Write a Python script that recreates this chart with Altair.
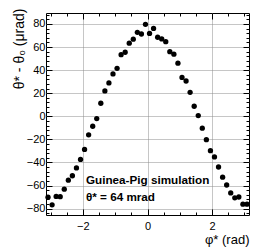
import altair as alt
import pandas as pd

# bin centres of phi* (rad), 50 bins over [-pi, pi]
phi = [-3.079, -2.953, -2.827, -2.702, -2.576, -2.450, -2.325, -2.199, -2.073, -1.948,
       -1.822, -1.696, -1.571, -1.445, -1.319, -1.194, -1.068, -0.942, -0.817, -0.691,
       -0.565, -0.440, -0.314, -0.188, -0.063, 0.063, 0.188, 0.314, 0.440, 0.565,
       0.691, 0.817, 0.942, 1.068, 1.194, 1.319, 1.445, 1.571, 1.696, 1.822,
       1.948, 2.073, 2.199, 2.325, 2.450, 2.576, 2.702, 2.827, 2.953, 3.079]
# theta* - theta0 (urad)
dtheta = [-70.1, -76.7, -69.4, -69.6, -63.1, -55.3, -51.5, -44.7, -37.4, -28.7,
          -16.0, -8.6, -2.0, 11.3, 22.0, 28.9, 36.7, 41.6, 53.4, 55.5,
          63.4, 66.8, 72.8, 71.3, 79.7, 71.8, 76.1, 68.5, 67.0, 64.7,
          56.0, 53.8, 46.0, 33.7, 30.6, 20.8, 8.7, 0.6, -10.3, -20.2,
          -29.8, -35.2, -43.9, -52.7, -59.5, -66.4, -70.6, -69.9, -76.1, -76.1]

x_major = [-2, 0, 2]
x_minor = [-3, -2.5, -1.5, -1, -0.5, 0.5, 1, 1.5, 2.5, 3]
y_major = [-80, -60, -40, -20, 0, 20, 40, 60, 80]
y_minor = [-84, -76, -72, -68, -64, -56, -52, -48, -44, -36, -32, -28, -24, -16, -12, -8, -4,
           4, 8, 12, 16, 24, 28, 32, 36, 44, 48, 52, 56, 64, 68, 72, 76, 84, 88]
x_domain = [-3.14159, 3.14159]
y_domain = [-85.5, 89.5]

ann1 = ["Guinea-Pig simulation"]
ann2 = ["θ* = 64 mrad"]

df = pd.DataFrame({"phi": phi, "dtheta": dtheta})

W, H = 203, 202
FONT = "Liberation Sans"

xscale = alt.Scale(domain=x_domain, nice=False, zero=False)
yscale = alt.Scale(domain=y_domain, nice=False, zero=False)


def tick_axis(orient, offset, values, size):
    return alt.Axis(orient=orient, offset=offset, values=values, tickSize=size,
                    labels=False, domain=False, grid=False, title="",
                    tickColor="black", tickWidth=1)


def layer(xaxis, yaxis, visible):
    op = 1 if visible else 0
    return alt.Chart(df).mark_point(filled=True, shape="circle", size=28, color="black",
                                    fillOpacity=op, strokeOpacity=0).encode(
        x=alt.X("phi:Q", scale=xscale, axis=xaxis),
        y=alt.Y("dtheta:Q", scale=yscale, axis=yaxis),
    )


main_x = alt.Axis(orient="bottom", values=x_major, format="d", ticks=False, domain=False,
                  grid=True, gridColor="#8c8c8c", gridDash=[1, 1], gridWidth=1,
                  labelPadding=5, labelFontSize=11, labelColor="black", labelFont=FONT,
                  title="φ* (rad)", titleFont=FONT, titleFontSize=13, titleFontWeight="normal",
                  titleColor="black", titleX=W, titleY=28, titleAlign="right",
                  titleBaseline="alphabetic", titleAnchor="end")
main_y = alt.Axis(orient="left", values=y_major, format="d", ticks=False, domain=False,
                  grid=True, gridColor="#8c8c8c", gridDash=[1, 1], gridWidth=1,
                  labelPadding=1, labelFontSize=11, labelColor="black", labelFont=FONT,
                  title="θ* - θ₀ (μrad)", titleFont=FONT, titleFontSize=14,
                  titleFontWeight="normal", titleColor="black", titleAngle=270,
                  titleX=-27, titleY=-5, titleAlign="right", titleBaseline="middle")

layers = [
    layer(main_x, main_y, True),
    layer(tick_axis("top", -H, x_major, 6), tick_axis("right", -W, y_major, 6), False),
    layer(tick_axis("top", -H, x_minor, 3), tick_axis("right", -W, y_minor, 3), False),
    layer(tick_axis("bottom", -H, x_major, 6), tick_axis("left", -W, y_major, 6), False),
    layer(tick_axis("bottom", -H, x_minor, 3), tick_axis("left", -W, y_minor, 3), False),
]

t1 = alt.Chart(pd.DataFrame({"label": ann1})).mark_text(
    align="left", baseline="alphabetic", font=FONT, fontSize=11.7, fontWeight="bold",
    color="black").encode(x=alt.value(40), y=alt.value(170.5), text="label:N")
t2 = alt.Chart(pd.DataFrame({"label": ann2})).mark_text(
    align="left", baseline="alphabetic", font=FONT, fontSize=11.7, fontWeight="bold",
    color="black").encode(x=alt.value(40), y=alt.value(188), text="label:N")

chart = alt.layer(*layers, t1, t2).resolve_axis(x="independent", y="independent").properties(
    width=W, height=H,
    padding={"left": 38, "top": 5, "right": 5, "bottom": 37},
    autosize=alt.AutoSizeParams(type="none"),
).configure_view(stroke="black", strokeWidth=1)

chart.save("out.html", embed_options={"renderer": "svg", "actions": False})
